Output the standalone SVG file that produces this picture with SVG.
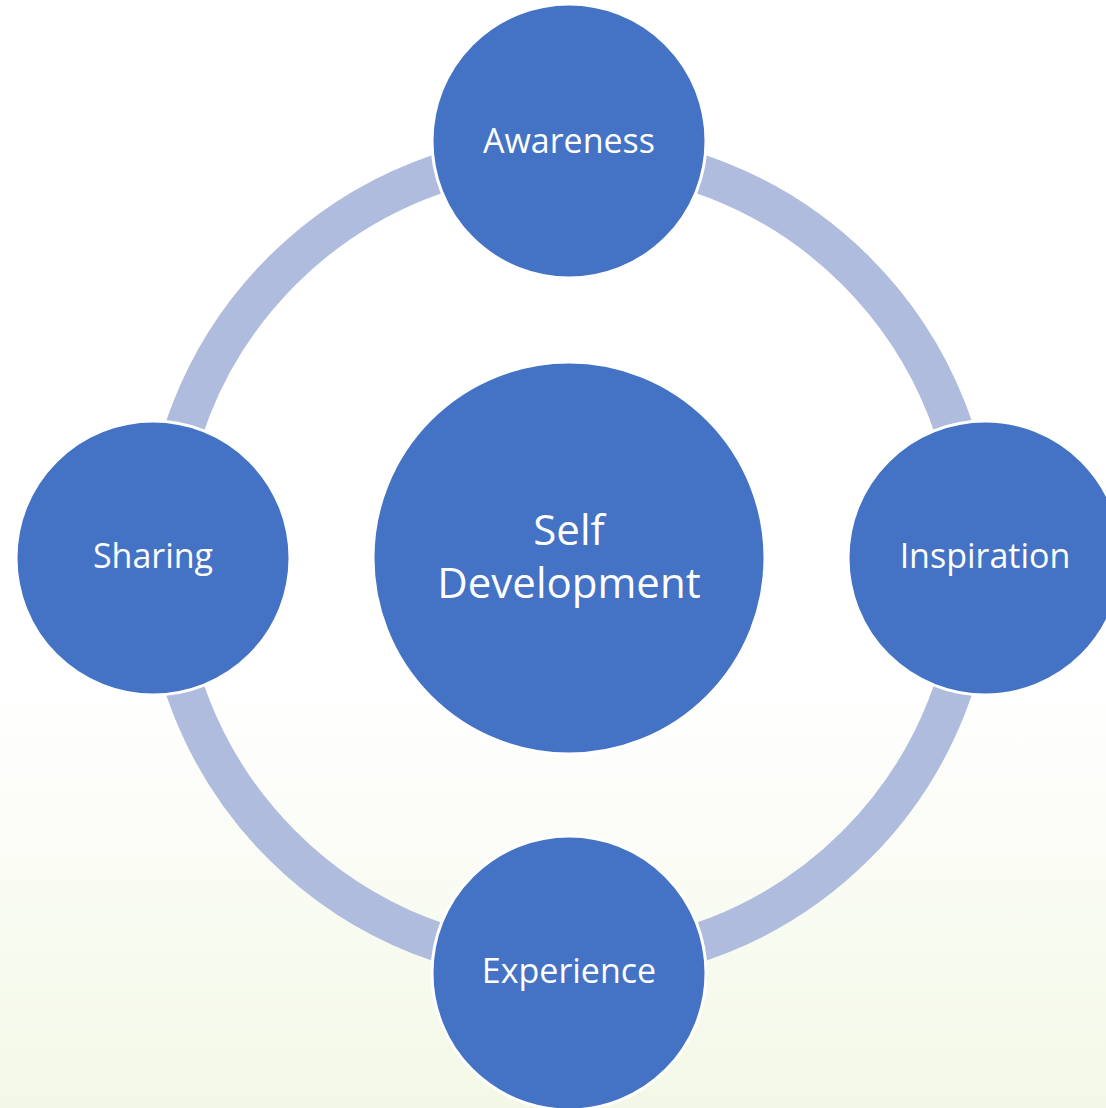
<svg xmlns="http://www.w3.org/2000/svg" width="1106" height="1108" viewBox="0 0 1106 1108">
<defs>
<linearGradient id="bg" x1="0" y1="0" x2="0" y2="1">
<stop offset="0" stop-color="#ffffff"/>
<stop offset="0.62" stop-color="#ffffff"/>
<stop offset="1" stop-color="#f3f8e6"/>
</linearGradient>
<style>
.node{fill:#4472C4;stroke:#ffffff;stroke-width:3}
.lbl{font-family:"Open Sans","Liberation Sans",sans-serif;fill:#ffffff;text-anchor:middle;font-size:34px}
.big{font-size:42px}
.ring{fill:none;stroke:#AFBCDE;stroke-width:39}
</style>
</defs>
<rect width="1106" height="1108" fill="url(#bg)"/>
<g id="connectors">
<circle class="ring" cx="569" cy="558" r="406"/>
</g>
<g id="center">
<circle class="node" cx="569" cy="558" r="196"/>
<text class="lbl big" x="569" y="545">Self</text>
<text class="lbl big" x="569" y="598">Development</text>
</g>
<g id="awareness">
<circle class="node" cx="569" cy="141" r="137"/>
<text class="lbl" x="569" y="153">Awareness</text>
</g>
<g id="inspiration">
<circle class="node" cx="985" cy="558" r="137"/>
<text class="lbl" x="985" y="568">Inspiration</text>
</g>
<g id="experience">
<circle class="node" cx="569" cy="973" r="137"/>
<text class="lbl" x="569" y="983">Experience</text>
</g>
<g id="sharing">
<circle class="node" cx="153" cy="558" r="137"/>
<text class="lbl" x="153" y="568">Sharing</text>
</g>
</svg>
